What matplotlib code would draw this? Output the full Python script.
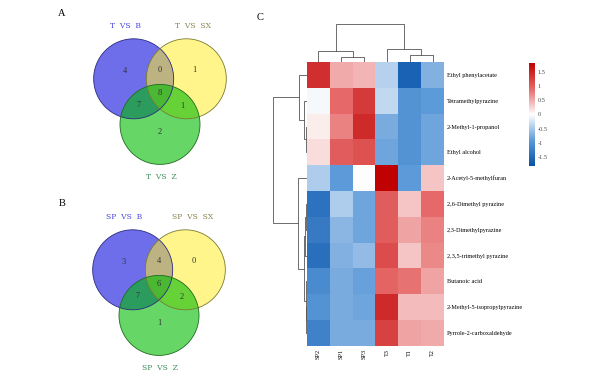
import numpy as np
import matplotlib
matplotlib.use("Agg")
import matplotlib.pyplot as plt
from matplotlib.patches import Circle
from matplotlib.colors import LinearSegmentedColormap

# Venn panels: counts per region (B only, B&SX, SX only, all, B&Z, SX&Z, Z only)
venn_a_sets = ["T VS B", "T VS SX", "T VS Z"]
venn_a_counts = [4, 0, 1, 8, 7, 1, 2]
venn_b_sets = ["SP VS B", "SP VS SX", "SP VS Z"]
venn_b_counts = [3, 4, 0, 6, 7, 2, 1]

# Heatmap (z-scores), rows/cols in displayed order
compounds = ["Ethyl phenylacetate", "Tetramethylpyrazine", "2-Methyl-1-propanol",
             "Ethyl alcohol", "2-Acetyl-5-methylfuran", "2,6-Dimethyl pyrazine",
             "2,3-Dimethylpyrazine", "2,3,5-trimethyl pyrazine", "Butanoic acid",
             "2-Methyl-5-isopropylpyrazine", "Pyrrole-2-carboxaldehyde"]
samples = ["SP2", "SP1", "SP3", "T3", "T1", "T2"]
zscores = np.array([
    [1.40, 0.50, 0.45, -0.40, -1.60, -0.70],
    [-0.05, 0.90, 1.30, -0.35, -1.00, -0.90],
    [0.10, 0.75, 1.45, -0.75, -1.00, -0.80],
    [0.20, 1.00, 1.10, -0.80, -1.00, -0.80],
    [-0.45, -0.90, 0.00, 1.80, -0.90, 0.35],
    [-1.40, -0.45, -0.80, 1.00, 0.35, 0.90],
    [-1.30, -0.65, -0.80, 1.00, 0.55, 0.75],
    [-1.45, -0.70, -0.60, 1.15, 0.35, 0.70],
    [-1.10, -0.75, -0.85, 0.95, 0.85, 0.55],
    [-1.00, -0.75, -0.80, 1.45, 0.40, 0.40],
    [-1.20, -0.75, -0.75, 1.25, 0.55, 0.50],
])
# linkage merges (child a, child b, height); leaves numbered in display order
col_links = [(1, 2, 0.5), (0, 6, 1.1), (4, 5, 0.66), (3, 8, 1.3), (7, 9, 3.7)]
row_links = [(2, 3, 0.4), (1, 11, 0.9), (0, 12, 2.4), (5, 6, 0.2), (14, 7, 0.45),
             (9, 10, 0.2), (8, 16, 0.4), (15, 17, 0.9), (4, 18, 2.6), (13, 19, 10.0)]

W, H = 608, 378
fig = plt.figure(figsize=(W / 100, H / 100), dpi=100)
serif = "Liberation Serif"


def px_axes(x0, y0, x1, y1):
    return fig.add_axes([x0 / W, 1 - y1 / H, (x1 - x0) / W, (y1 - y0) / H])


def draw_venn(ax, names, counts):
    d = 0.76
    centers = [(d * np.cos(np.radians(a)), d * np.sin(np.radians(a))) for a in (150, 30, 270)]
    fills = ["#0d0dde", "#ffed2c", "#00bc00"]
    alphas = [0.6, 0.55, 0.6]
    edges = ["#2a2a80", "#7a7a30", "#1f6a1f"]
    for c, f, a in zip(centers, fills, alphas):
        ax.add_patch(Circle(c, 1.0, facecolor=f, alpha=a, edgecolor="none"))
    for c, e in zip(centers, edges):
        ax.add_patch(Circle(c, 1.0, facecolor="none", edgecolor=e, lw=0.6))
    spots = [(-0.87, 0.58), (0.0, 0.6), (0.86, 0.6), (0.0, 0.03),
             (-0.54, -0.27), (0.56, -0.3), (0.0, -0.95)]
    for (x, y), n in zip(spots, counts):
        ax.text(x, y, str(n), ha="center", va="center", fontsize=6,
                family=serif, color="#333333")
    label_pos = [(-0.87, 1.7), (0.83, 1.7), (0.03, -2.08)]
    label_col = ["#4a4ae0", "#8a8450", "#3d8f5a"]
    for (x, y), t, c in zip(label_pos, names, label_col):
        ax.text(x, y, t.replace(" ", "  "), ha="center", va="center", fontsize=5.5,
                family="DejaVu Serif", color=c)
    ax.set_xlim(-2.5, 2.5)
    ax.set_ylim(-2.3, 2.2)
    ax.axis("off")


draw_venn(px_axes(60, 6, 260, 186), venn_a_sets, venn_a_counts)
draw_venn(px_axes(59, 197, 259, 377), venn_b_sets, venn_b_counts)

for s, (x, y) in zip("ABC", [(62, 14), (62, 204), (260, 17)]):
    fig.text(x / W, 1 - y / H, s, fontsize=7.5, family=serif, ha="center", va="center")

# heatmap
cmap = LinearSegmentedColormap.from_list(
    "bwr_p", [(0, "#0652a8"), (0.25, "#5d9ad9"), (0.5, "#ffffff"),
              (0.75, "#e66868"), (1, "#c00000")])
hx0, hy0, hx1, hy1 = 307, 62, 444, 346
ax = px_axes(hx0, hy0, hx1, hy1)
im = ax.imshow(zscores, cmap=cmap, vmin=-1.82, vmax=1.82, aspect="auto",
               interpolation="nearest")
ax.set_xticks(range(len(samples)))
ax.set_xticklabels(samples, rotation=90, fontsize=4.5, family=serif)
ax.set_yticks(range(len(compounds)))
ax.set_yticklabels(compounds, fontsize=4.5, family=serif)
ax.yaxis.tick_right()
ax.tick_params(length=0, pad=2)
for sp in ax.spines.values():
    sp.set_visible(False)


def dendro(ax, links, n, vertical):
    pos = {i: float(i) for i in range(n)}
    hts = {i: 0.0 for i in range(n)}
    for k, (a, b, h) in enumerate(links):
        xs = [pos[a], pos[a], pos[b], pos[b]]
        ys = [hts[a], h, h, hts[b]]
        if vertical:
            ax.plot(xs, ys, color="#555555", lw=0.6)
        else:
            ax.plot(ys, xs, color="#555555", lw=0.6)
        pos[n + k] = (pos[a] + pos[b]) / 2
        hts[n + k] = h
    top = links[-1][2]
    if vertical:
        ax.set_xlim(-0.5, n - 0.5)
        ax.set_ylim(0, top)
    else:
        ax.set_ylim(n - 0.5, -0.5)
        ax.set_xlim(top, 0)
    ax.axis("off")


dendro(px_axes(hx0, 24, hx1, hy0), col_links, len(samples), True)
dendro(px_axes(273, hy0, hx0, hy1), row_links, len(compounds), False)

cax = px_axes(529, 63, 535, 166)
cb = fig.colorbar(im, cax=cax, ticks=[-1.5, -1, -0.5, 0, 0.5, 1, 1.5])
cb.ax.set_yticklabels(["-1.5", "-1", "-0.5", "0", "0.5", "1", "1.5"],
                      fontsize=4.5, family=serif, color="#444444")
cb.ax.tick_params(length=0, pad=2)
cb.outline.set_visible(False)

fig.savefig("out.png", dpi=100)
